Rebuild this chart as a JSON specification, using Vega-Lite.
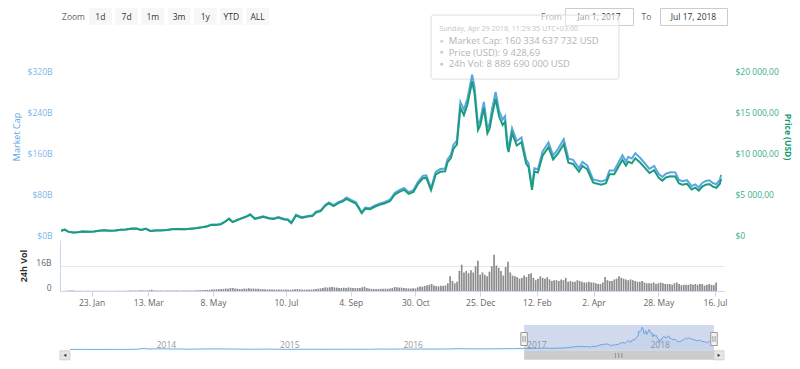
{
"$schema": "https://vega.github.io/schema/vega-lite/v6.json",
"background": "#ffffff",
"padding": {"left": 12, "top": 7, "right": 6, "bottom": 0},
"spacing": -12,
"config": {"font": "Open Sans", "view": {"stroke": null}, "axis": {"labelFontSize": 8.5, "labelColor": "#666666", "labelFont": "Open Sans", "titleFont": "Open Sans"}},
"datasets": {
"px": [
{"d":"2017-01-01","mc":16.05,"p":998},{"d":"2017-01-04","mc":18.25,"p":1135},{"d":"2017-01-07","mc":14.39,"p":895},{"d":"2017-01-11","mc":12.54,"p":780},{"d":"2017-01-15","mc":13.16,"p":818},{"d":"2017-01-19","mc":14.48,"p":900},{"d":"2017-01-24","mc":14.32,"p":890},{"d":"2017-01-29","mc":14.72,"p":915},
{"d":"2017-02-02","mc":16.30,"p":1010},{"d":"2017-02-07","mc":17.03,"p":1055},{"d":"2017-02-11","mc":16.14,"p":1000},{"d":"2017-02-16","mc":16.71,"p":1035},{"d":"2017-02-21","mc":18.00,"p":1115},{"d":"2017-02-25","mc":18.56,"p":1150},
{"d":"2017-03-02","mc":20.40,"p":1260},{"d":"2017-03-06","mc":20.64,"p":1275},{"d":"2017-03-10","mc":17.81,"p":1100},{"d":"2017-03-14","mc":20.16,"p":1245},{"d":"2017-03-18","mc":15.79,"p":975},{"d":"2017-03-23","mc":16.84,"p":1040},{"d":"2017-03-27","mc":16.92,"p":1045},
{"d":"2017-04-01","mc":17.63,"p":1085},{"d":"2017-04-06","mc":19.34,"p":1190},{"d":"2017-04-11","mc":19.66,"p":1210},{"d":"2017-04-16","mc":19.18,"p":1180},{"d":"2017-04-21","mc":20.15,"p":1240},{"d":"2017-04-26","mc":21.29,"p":1310},
{"d":"2017-05-01","mc":23.16,"p":1420},{"d":"2017-05-05","mc":24.95,"p":1530},{"d":"2017-05-09","mc":28.05,"p":1720},{"d":"2017-05-13","mc":28.05,"p":1720},{"d":"2017-05-17","mc":29.36,"p":1800},{"d":"2017-05-20","mc":33.27,"p":2040},{"d":"2017-05-24","mc":39.96,"p":2450},{"d":"2017-05-27","mc":33.44,"p":2050},{"d":"2017-05-31","mc":37.51,"p":2300},
{"d":"2017-06-04","mc":41.25,"p":2520},{"d":"2017-06-08","mc":44.53,"p":2720},{"d":"2017-06-11","mc":48.46,"p":2960},{"d":"2017-06-15","mc":40.11,"p":2450},{"d":"2017-06-19","mc":42.56,"p":2600},{"d":"2017-06-22","mc":44.36,"p":2710},{"d":"2017-06-27","mc":40.93,"p":2500},
{"d":"2017-07-01","mc":39.92,"p":2430},{"d":"2017-07-05","mc":42.88,"p":2610},{"d":"2017-07-10","mc":39.10,"p":2380},{"d":"2017-07-13","mc":38.61,"p":2350},{"d":"2017-07-16","mc":31.71,"p":1930},{"d":"2017-07-20","mc":47.15,"p":2870},{"d":"2017-07-25","mc":42.39,"p":2580},{"d":"2017-07-30","mc":45.02,"p":2740},
{"d":"2017-08-03","mc":46.14,"p":2800},{"d":"2017-08-06","mc":53.23,"p":3230},{"d":"2017-08-10","mc":56.03,"p":3400},{"d":"2017-08-14","mc":66.91,"p":4060},{"d":"2017-08-17","mc":71.36,"p":4330},{"d":"2017-08-21","mc":66.08,"p":4010},{"d":"2017-08-25","mc":72.02,"p":4370},{"d":"2017-08-29","mc":75.64,"p":4590},
{"d":"2017-09-01","mc":80.88,"p":4890},{"d":"2017-09-05","mc":76.08,"p":4600},{"d":"2017-09-09","mc":71.62,"p":4330},{"d":"2017-09-14","mc":52.10,"p":3150},{"d":"2017-09-17","mc":61.20,"p":3700},{"d":"2017-09-21","mc":60.04,"p":3630},{"d":"2017-09-25","mc":65.00,"p":3930},{"d":"2017-09-29","mc":68.97,"p":4170},
{"d":"2017-10-03","mc":71.71,"p":4320},{"d":"2017-10-08","mc":76.53,"p":4610},{"d":"2017-10-12","mc":89.64,"p":5400},{"d":"2017-10-16","mc":95.45,"p":5750},{"d":"2017-10-20","mc":99.60,"p":6000},{"d":"2017-10-24","mc":91.30,"p":5500},{"d":"2017-10-28","mc":95.45,"p":5750},
{"d":"2017-11-01","mc":112.22,"p":6740},{"d":"2017-11-05","mc":123.21,"p":7400},{"d":"2017-11-08","mc":124.04,"p":7450},{"d":"2017-11-12","mc":99.07,"p":5950},{"d":"2017-11-16","mc":131.04,"p":7870},{"d":"2017-11-20","mc":136.53,"p":8200},{"d":"2017-11-24","mc":137.36,"p":8250},{"d":"2017-11-26","mc":155.34,"p":9330},{"d":"2017-11-29","mc":164.83,"p":9900},
{"d":"2017-12-01","mc":183.48,"p":10980},{"d":"2017-12-04","mc":192.17,"p":11500},{"d":"2017-12-07","mc":267.36,"p":16000},{"d":"2017-12-10","mc":252.32,"p":15100},{"d":"2017-12-13","mc":274.04,"p":16400},{"d":"2017-12-17","mc":320.83,"p":19200},{"d":"2017-12-19","mc":297.44,"p":17800},{"d":"2017-12-22","mc":222.24,"p":13300},{"d":"2017-12-24","mc":232.27,"p":13900},{"d":"2017-12-27","mc":267.36,"p":16000},{"d":"2017-12-30","mc":215.56,"p":12900},
{"d":"2018-01-01","mc":226.40,"p":13500},{"d":"2018-01-03","mc":254.07,"p":15150},{"d":"2018-01-06","mc":286.77,"p":17100},{"d":"2018-01-09","mc":249.87,"p":14900},{"d":"2018-01-12","mc":233.10,"p":13900},{"d":"2018-01-14","mc":239.81,"p":14300},{"d":"2018-01-16","mc":187.82,"p":11200},{"d":"2018-01-17","mc":177.76,"p":10600},{"d":"2018-01-20","mc":216.33,"p":12900},{"d":"2018-01-24","mc":191.18,"p":11400},{"d":"2018-01-28","mc":197.89,"p":11800},
{"d":"2018-02-01","mc":154.74,"p":9200},{"d":"2018-02-03","mc":148.02,"p":8800},{"d":"2018-02-06","mc":100.92,"p":6000},{"d":"2018-02-08","mc":137.92,"p":8200},{"d":"2018-02-11","mc":136.24,"p":8100},{"d":"2018-02-15","mc":170.72,"p":10150},{"d":"2018-02-20","mc":188.38,"p":11200},{"d":"2018-02-24","mc":163.15,"p":9700},{"d":"2018-02-28","mc":174.93,"p":10400},
{"d":"2018-03-05","mc":194.85,"p":11550},{"d":"2018-03-09","mc":156.89,"p":9300},{"d":"2018-03-13","mc":154.36,"p":9150},{"d":"2018-03-18","mc":138.33,"p":8200},{"d":"2018-03-21","mc":150.14,"p":8900},{"d":"2018-03-25","mc":143.40,"p":8500},{"d":"2018-03-30","mc":116.40,"p":6900},
{"d":"2018-04-01","mc":115.12,"p":6800},{"d":"2018-04-06","mc":112.25,"p":6630},{"d":"2018-04-10","mc":115.12,"p":6800},{"d":"2018-04-13","mc":133.75,"p":7900},{"d":"2018-04-17","mc":133.75,"p":7900},{"d":"2018-04-21","mc":150.68,"p":8900},{"d":"2018-04-24","mc":163.37,"p":9650},{"d":"2018-04-27","mc":151.52,"p":8950},{"d":"2018-04-29","mc":160.33,"p":9428.69},
{"d":"2018-05-02","mc":156.98,"p":9240},{"d":"2018-05-05","mc":167.35,"p":9850},{"d":"2018-05-09","mc":158.52,"p":9330},{"d":"2018-05-13","mc":147.81,"p":8700},{"d":"2018-05-17","mc":136.77,"p":8050},{"d":"2018-05-21","mc":142.72,"p":8400},{"d":"2018-05-25","mc":126.58,"p":7450},{"d":"2018-05-28","mc":120.97,"p":7120},{"d":"2018-05-31","mc":127.43,"p":7500},
{"d":"2018-06-04","mc":130.36,"p":7650},{"d":"2018-06-08","mc":130.02,"p":7630},{"d":"2018-06-11","mc":115.87,"p":6800},{"d":"2018-06-14","mc":112.80,"p":6620},{"d":"2018-06-18","mc":114.68,"p":6730},{"d":"2018-06-22","mc":103.09,"p":6050},{"d":"2018-06-25","mc":106.67,"p":6260},{"d":"2018-06-28","mc":100.54,"p":5900},
{"d":"2018-07-01","mc":109.27,"p":6390},{"d":"2018-07-04","mc":113.20,"p":6620},{"d":"2018-07-07","mc":114.57,"p":6700},{"d":"2018-07-10","mc":109.27,"p":6390},{"d":"2018-07-13","mc":106.88,"p":6250},{"d":"2018-07-16","mc":115.25,"p":6740},{"d":"2018-07-17","mc":125.17,"p":7320}
],
"vol": [
{"d":"2017-01-01","v":0.15},{"d":"2017-01-03","v":0.3},{"d":"2017-01-05","v":0.35},{"d":"2017-01-07","v":0.25},{"d":"2017-01-09","v":0.2},{"d":"2017-01-11","v":0.15},{"d":"2017-01-13","v":0.12},{"d":"2017-01-15","v":0.1},{"d":"2017-01-17","v":0.12},{"d":"2017-01-19","v":0.1},{"d":"2017-01-21","v":0.14},{"d":"2017-01-23","v":0.12},{"d":"2017-01-25","v":0.1},{"d":"2017-01-27","v":0.1},{"d":"2017-01-29","v":0.12},{"d":"2017-01-31","v":0.1},
{"d":"2017-02-02","v":0.12},{"d":"2017-02-04","v":0.1},{"d":"2017-02-06","v":0.1},{"d":"2017-02-08","v":0.14},{"d":"2017-02-10","v":0.12},{"d":"2017-02-12","v":0.1},{"d":"2017-02-14","v":0.12},{"d":"2017-02-16","v":0.15},{"d":"2017-02-18","v":0.14},{"d":"2017-02-20","v":0.2},{"d":"2017-02-22","v":0.22},{"d":"2017-02-24","v":0.25},{"d":"2017-02-26","v":0.3},{"d":"2017-02-28","v":0.25},
{"d":"2017-03-02","v":0.35},{"d":"2017-03-04","v":0.35},{"d":"2017-03-06","v":0.4},{"d":"2017-03-08","v":0.5},{"d":"2017-03-10","v":0.3},{"d":"2017-03-12","v":0.25},{"d":"2017-03-14","v":0.5},{"d":"2017-03-16","v":0.8},{"d":"2017-03-18","v":0.4},{"d":"2017-03-20","v":0.35},{"d":"2017-03-22","v":0.3},{"d":"2017-03-24","v":0.3},{"d":"2017-03-26","v":0.25},{"d":"2017-03-28","v":0.3},{"d":"2017-03-30","v":0.35},
{"d":"2017-04-01","v":0.3},{"d":"2017-04-03","v":0.3},{"d":"2017-04-05","v":0.35},{"d":"2017-04-07","v":0.4},{"d":"2017-04-09","v":0.3},{"d":"2017-04-11","v":0.3},{"d":"2017-04-13","v":0.35},{"d":"2017-04-15","v":0.3},{"d":"2017-04-17","v":0.35},{"d":"2017-04-19","v":0.3},{"d":"2017-04-21","v":0.35},{"d":"2017-04-23","v":0.45},{"d":"2017-04-25","v":0.5},{"d":"2017-04-27","v":0.55},{"d":"2017-04-29","v":0.6},
{"d":"2017-05-01","v":0.65},{"d":"2017-05-03","v":0.7},{"d":"2017-05-05","v":0.8},{"d":"2017-05-07","v":0.9},{"d":"2017-05-09","v":1.0},{"d":"2017-05-11","v":1.1},{"d":"2017-05-13","v":1.2},{"d":"2017-05-15","v":1.3},{"d":"2017-05-17","v":1.4},{"d":"2017-05-19","v":1.6},{"d":"2017-05-21","v":1.5},{"d":"2017-05-23","v":1.9},{"d":"2017-05-25","v":2.0},{"d":"2017-05-27","v":1.6},{"d":"2017-05-29","v":1.5},{"d":"2017-05-31","v":1.3},
{"d":"2017-06-02","v":1.3},{"d":"2017-06-04","v":1.6},{"d":"2017-06-06","v":1.5},{"d":"2017-06-08","v":1.7},{"d":"2017-06-10","v":1.5},{"d":"2017-06-12","v":1.6},{"d":"2017-06-14","v":1.4},{"d":"2017-06-16","v":1.5},{"d":"2017-06-18","v":1.3},{"d":"2017-06-20","v":1.2},{"d":"2017-06-22","v":1.1},{"d":"2017-06-24","v":1.0},{"d":"2017-06-26","v":1.1},{"d":"2017-06-28","v":1.0},{"d":"2017-06-30","v":1.0},
{"d":"2017-07-02","v":0.9},{"d":"2017-07-04","v":0.95},{"d":"2017-07-06","v":0.9},{"d":"2017-07-08","v":0.85},{"d":"2017-07-10","v":0.9},{"d":"2017-07-12","v":0.8},{"d":"2017-07-14","v":0.85},{"d":"2017-07-16","v":0.95},{"d":"2017-07-18","v":1.1},{"d":"2017-07-20","v":1.3},{"d":"2017-07-22","v":1.0},{"d":"2017-07-24","v":0.9},{"d":"2017-07-26","v":0.85},{"d":"2017-07-28","v":0.9},{"d":"2017-07-30","v":0.95},
{"d":"2017-08-01","v":0.9},{"d":"2017-08-03","v":1.2},{"d":"2017-08-05","v":1.3},{"d":"2017-08-07","v":1.5},{"d":"2017-08-09","v":1.7},{"d":"2017-08-11","v":2.0},{"d":"2017-08-13","v":2.4},{"d":"2017-08-15","v":2.2},{"d":"2017-08-17","v":2.4},{"d":"2017-08-19","v":2.6},{"d":"2017-08-21","v":2.3},{"d":"2017-08-23","v":2.2},{"d":"2017-08-25","v":1.9},{"d":"2017-08-27","v":2.0},{"d":"2017-08-29","v":2.1},{"d":"2017-08-31","v":2.0},
{"d":"2017-09-02","v":2.3},{"d":"2017-09-04","v":2.1},{"d":"2017-09-06","v":1.9},{"d":"2017-09-08","v":1.8},{"d":"2017-09-10","v":1.9},{"d":"2017-09-12","v":2.0},{"d":"2017-09-14","v":2.4},{"d":"2017-09-16","v":2.8},{"d":"2017-09-18","v":1.9},{"d":"2017-09-20","v":1.6},{"d":"2017-09-22","v":1.4},{"d":"2017-09-24","v":1.3},{"d":"2017-09-26","v":1.3},{"d":"2017-09-28","v":1.4},{"d":"2017-09-30","v":1.4},
{"d":"2017-10-02","v":1.4},{"d":"2017-10-04","v":1.5},{"d":"2017-10-06","v":1.5},{"d":"2017-10-08","v":1.6},{"d":"2017-10-10","v":1.9},{"d":"2017-10-12","v":2.6},{"d":"2017-10-14","v":2.4},{"d":"2017-10-16","v":2.2},{"d":"2017-10-18","v":2.2},{"d":"2017-10-20","v":1.9},{"d":"2017-10-22","v":1.8},{"d":"2017-10-24","v":1.7},{"d":"2017-10-26","v":1.6},{"d":"2017-10-28","v":1.8},{"d":"2017-10-30","v":1.6},
{"d":"2017-11-01","v":2.4},{"d":"2017-11-03","v":2.9},{"d":"2017-11-05","v":2.8},{"d":"2017-11-07","v":3.3},{"d":"2017-11-09","v":3.8},{"d":"2017-11-11","v":4.0},{"d":"2017-11-13","v":4.6},{"d":"2017-11-15","v":3.6},{"d":"2017-11-17","v":3.2},{"d":"2017-11-19","v":3.0},{"d":"2017-11-21","v":3.4},{"d":"2017-11-23","v":3.3},{"d":"2017-11-25","v":3.6},{"d":"2017-11-27","v":5.0},{"d":"2017-11-29","v":9.5},
{"d":"2017-12-01","v":6.5},{"d":"2017-12-03","v":5.0},{"d":"2017-12-05","v":6.0},{"d":"2017-12-07","v":13.0},{"d":"2017-12-09","v":17.0},{"d":"2017-12-11","v":12.0},{"d":"2017-12-13","v":13.0},{"d":"2017-12-15","v":11.5},{"d":"2017-12-17","v":13.5},{"d":"2017-12-19","v":12.0},{"d":"2017-12-21","v":16.0},{"d":"2017-12-23","v":19.5},{"d":"2017-12-25","v":10.5},{"d":"2017-12-27","v":12.0},{"d":"2017-12-29","v":10.5},{"d":"2017-12-31","v":9.5},
{"d":"2018-01-02","v":12.5},{"d":"2018-01-04","v":16.0},{"d":"2018-01-06","v":23.5},{"d":"2018-01-08","v":16.5},{"d":"2018-01-10","v":15.0},{"d":"2018-01-12","v":13.0},{"d":"2018-01-14","v":10.0},{"d":"2018-01-16","v":15.5},{"d":"2018-01-18","v":19.0},{"d":"2018-01-20","v":12.0},{"d":"2018-01-22","v":10.0},{"d":"2018-01-24","v":9.5},{"d":"2018-01-26","v":9.0},{"d":"2018-01-28","v":8.0},{"d":"2018-01-30","v":8.5},
{"d":"2018-02-01","v":10.0},{"d":"2018-02-03","v":9.0},{"d":"2018-02-05","v":11.0},{"d":"2018-02-07","v":11.5},{"d":"2018-02-09","v":8.5},{"d":"2018-02-11","v":7.0},{"d":"2018-02-13","v":8.0},{"d":"2018-02-15","v":9.5},{"d":"2018-02-17","v":8.5},{"d":"2018-02-19","v":8.0},{"d":"2018-02-21","v":9.0},{"d":"2018-02-23","v":7.5},{"d":"2018-02-25","v":6.5},{"d":"2018-02-27","v":7.0},
{"d":"2018-03-01","v":7.0},{"d":"2018-03-03","v":6.5},{"d":"2018-03-05","v":7.5},{"d":"2018-03-07","v":7.0},{"d":"2018-03-09","v":8.5},{"d":"2018-03-11","v":6.0},{"d":"2018-03-13","v":6.5},{"d":"2018-03-15","v":6.0},{"d":"2018-03-17","v":6.0},{"d":"2018-03-19","v":7.0},{"d":"2018-03-21","v":6.5},{"d":"2018-03-23","v":6.0},{"d":"2018-03-25","v":5.5},{"d":"2018-03-27","v":5.5},{"d":"2018-03-29","v":6.0},{"d":"2018-03-31","v":5.5},
{"d":"2018-04-02","v":5.5},{"d":"2018-04-04","v":5.0},{"d":"2018-04-06","v":4.5},{"d":"2018-04-08","v":4.5},{"d":"2018-04-10","v":5.5},{"d":"2018-04-12","v":9.0},{"d":"2018-04-14","v":7.0},{"d":"2018-04-16","v":6.5},{"d":"2018-04-18","v":6.5},{"d":"2018-04-20","v":7.5},{"d":"2018-04-22","v":8.0},{"d":"2018-04-24","v":9.5},{"d":"2018-04-26","v":8.5},{"d":"2018-04-28","v":8.0},{"d":"2018-04-30","v":7.5},
{"d":"2018-05-02","v":7.0},{"d":"2018-05-04","v":7.5},{"d":"2018-05-06","v":7.0},{"d":"2018-05-08","v":6.5},{"d":"2018-05-10","v":6.0},{"d":"2018-05-12","v":6.0},{"d":"2018-05-14","v":6.5},{"d":"2018-05-16","v":5.5},{"d":"2018-05-18","v":5.0},{"d":"2018-05-20","v":5.0},{"d":"2018-05-22","v":5.0},{"d":"2018-05-24","v":5.5},{"d":"2018-05-26","v":4.5},{"d":"2018-05-28","v":5.0},{"d":"2018-05-30","v":5.5},
{"d":"2018-06-01","v":5.0},{"d":"2018-06-03","v":4.5},{"d":"2018-06-05","v":4.5},{"d":"2018-06-07","v":4.5},{"d":"2018-06-09","v":4.0},{"d":"2018-06-11","v":5.0},{"d":"2018-06-13","v":5.5},{"d":"2018-06-15","v":4.5},{"d":"2018-06-17","v":3.8},{"d":"2018-06-19","v":4.0},{"d":"2018-06-21","v":4.0},{"d":"2018-06-23","v":4.0},{"d":"2018-06-25","v":4.5},{"d":"2018-06-27","v":4.0},{"d":"2018-06-29","v":4.5},
{"d":"2018-07-01","v":4.0},{"d":"2018-07-03","v":4.5},{"d":"2018-07-05","v":4.5},{"d":"2018-07-07","v":3.5},{"d":"2018-07-09","v":4.0},{"d":"2018-07-11","v":4.5},{"d":"2018-07-13","v":4.0},{"d":"2018-07-15","v":3.8},{"d":"2018-07-17","v":5.5}
],
"hist": [
{"d":"2013-04-28","mc":1.5},{"d":"2013-06-01","mc":1.4},{"d":"2013-07-05","mc":0.8},{"d":"2013-08-01","mc":1.2},{"d":"2013-09-01","mc":1.6},{"d":"2013-10-01","mc":1.5},{"d":"2013-10-25","mc":2.2},{"d":"2013-11-10","mc":4.2},{"d":"2013-11-20","mc":7.2},{"d":"2013-11-30","mc":13.2},{"d":"2013-12-04","mc":14.0},{"d":"2013-12-18","mc":6.5},
{"d":"2014-01-01","mc":9.0},{"d":"2014-02-01","mc":10.0},{"d":"2014-02-25","mc":6.5},{"d":"2014-03-15","mc":7.8},{"d":"2014-04-10","mc":4.6},{"d":"2014-05-01","mc":5.4},{"d":"2014-06-03","mc":8.2},{"d":"2014-07-01","mc":8.3},{"d":"2014-08-01","mc":7.7},{"d":"2014-09-01","mc":6.4},{"d":"2014-10-05","mc":4.4},{"d":"2014-11-01","mc":4.5},{"d":"2014-12-01","mc":5.2},
{"d":"2015-01-01","mc":4.3},{"d":"2015-01-14","mc":2.4},{"d":"2015-02-01","mc":3.1},{"d":"2015-03-01","mc":3.5},{"d":"2015-04-01","mc":3.5},{"d":"2015-05-01","mc":3.3},{"d":"2015-06-01","mc":3.2},{"d":"2015-07-01","mc":3.7},{"d":"2015-08-01","mc":4.3},{"d":"2015-09-01","mc":3.4},{"d":"2015-10-01","mc":3.5},{"d":"2015-11-04","mc":6.8},{"d":"2015-12-01","mc":5.3},
{"d":"2016-01-01","mc":6.5},{"d":"2016-02-01","mc":5.7},{"d":"2016-03-01","mc":6.9},{"d":"2016-04-01","mc":6.4},{"d":"2016-05-01","mc":7.0},{"d":"2016-06-01","mc":8.5},{"d":"2016-06-17","mc":11.9},{"d":"2016-07-01","mc":10.6},{"d":"2016-08-01","mc":9.1},{"d":"2016-09-01","mc":9.1},{"d":"2016-10-01","mc":9.7},{"d":"2016-11-01","mc":11.5},{"d":"2016-12-01","mc":12.2},{"d":"2017-01-01","mc":16.05}
],
"yrs": [{"d":"2014-01-01","t":"2014"},{"d":"2015-01-01","t":"2015"},{"d":"2016-01-01","t":"2016"},{"d":"2017-01-01","t":"2017"},{"d":"2018-01-01","t":"2018"}],
"sel": [{"s":"2013-04-28","a":"2017-01-01","b":"2018-07-17","m":"2017-10-08","g":"|||"}]
},
"vconcat": [
{"hconcat": [
  {"hconcat": [
    {"width": 27, "height": 17, "data": {"values": [{"t": "Zoom"}]}, "mark": {"type": "text", "fontSize": 8.5, "color": "#666666"}, "encoding": {"text": {"field": "t"}}},
    {"width": 180, "height": 17, "data": {"values": [{"b": "1d"},{"b": "7d"},{"b": "1m"},{"b": "3m"},{"b": "1y"},{"b": "YTD"},{"b": "ALL"}]},
     "encoding": {"x": {"field": "b", "type": "nominal", "sort": null, "scale": {"paddingInner": 0.13, "paddingOuter": 0}, "axis": null}},
     "layer": [
       {"mark": {"type": "rect", "fill": "#f7f7f7"}},
       {"mark": {"type": "text", "fontSize": 8.5, "color": "#333333"}, "encoding": {"text": {"field": "b"}}}
     ]}
  ], "spacing": 2},
  {"hconcat": [
    {"width": 25, "height": 17, "data": {"values": [{"t": "From"}]}, "mark": {"type": "text", "fontSize": 8.5, "color": "#666666"}, "encoding": {"text": {"field": "t"}}},
    {"width": 68, "height": 17, "view": {"stroke": "#cccccc"}, "data": {"values": [{"t": "Jan 1, 2017"}]}, "mark": {"type": "text", "fontSize": 8.5, "color": "#333333"}, "encoding": {"text": {"field": "t"}}},
    {"width": 25, "height": 17, "data": {"values": [{"t": "To"}]}, "mark": {"type": "text", "fontSize": 8.5, "color": "#666666"}, "encoding": {"text": {"field": "t"}}},
    {"width": 67, "height": 17, "view": {"stroke": "#cccccc"}, "data": {"values": [{"t": "Jul 17, 2018"}]}, "mark": {"type": "text", "fontSize": 8.5, "color": "#333333"}, "encoding": {"text": {"field": "t"}}}
  ], "spacing": 0}
], "spacing": 270},
{"width": 664, "height": 205,
 "layer": [
  {"layer": [
    {"data": {"values": [{"k": "tip"}]}, "mark": {"type": "rect", "fill": "#ffffff", "fillOpacity": 0.5, "stroke": "#dedede", "strokeWidth": 1, "cornerRadius": 2},
     "encoding": {"x": {"datum": {"year": 2017, "month": 11, "date": 12, "utc": true}, "type": "temporal", "axis": null}, "x2": {"datum": {"year": 2018, "month": 4, "date": 21, "utc": true}}, "y": {"datum": 437, "type": "quantitative"}, "y2": {"datum": 312}}},
    {"data": {"values": [{"t": "Sunday, Apr 29 2018, 11:29:35 UTC+03:00"}]}, "mark": {"type": "text", "align": "left", "baseline": "middle", "fontSize": 7.2, "color": "#c6c6c6"},
     "encoding": {"x": {"datum": {"year": 2017, "month": 11, "date": 19, "utc": true}, "type": "temporal", "axis": null}, "y": {"datum": 408.8, "type": "quantitative"}, "text": {"field": "t"}}},
    {"data": {"values": [{"t": ["Market Cap: 160 334 637 732 USD", "Price (USD): 9 428,69", "24h Vol: 8 889 690 000 USD"]}]}, "mark": {"type": "text", "align": "left", "baseline": "top", "fontSize": 9.5, "lineHeight": 11.5, "color": "#b4b4b4"},
     "encoding": {"x": {"datum": {"year": 2017, "month": 11, "date": 27, "utc": true}, "type": "temporal", "axis": null}, "y": {"datum": 395.5, "type": "quantitative"}, "text": {"field": "t"}}},
    {"data": {"values": [{"t": "●"}]}, "mark": {"type": "text", "baseline": "middle", "fontSize": 6.5, "color": "#b5d8f2"},
     "encoding": {"x": {"datum": {"year": 2017, "month": 11, "date": 21, "utc": true}, "type": "temporal", "axis": null}, "y": {"datum": 387.3, "type": "quantitative"}, "text": {"field": "t"}}},
    {"data": {"values": [{"t": "●"}]}, "mark": {"type": "text", "baseline": "middle", "fontSize": 6.5, "color": "#a3d9c8"},
     "encoding": {"x": {"datum": {"year": 2017, "month": 11, "date": 21, "utc": true}, "type": "temporal", "axis": null}, "y": {"datum": 364.9, "type": "quantitative"}, "text": {"field": "t"}}},
    {"data": {"values": [{"t": "●"}]}, "mark": {"type": "text", "baseline": "middle", "fontSize": 6.5, "color": "#c4c4c4"},
     "encoding": {"x": {"datum": {"year": 2017, "month": 11, "date": 21, "utc": true}, "type": "temporal", "axis": null}, "y": {"datum": 342.4, "type": "quantitative"}, "text": {"field": "t"}}},
    {"data": {"name": "px"}, "mark": {"type": "line", "color": "#5aa6e3", "strokeWidth": 2},
     "encoding": {
       "x": {"field": "d", "type": "temporal", "scale": {"type": "utc", "domain": [{"year": 2016, "month": 12, "date": 31, "utc": true}, {"year": 2018, "month": 7, "date": 19, "hours": 12, "utc": true}]}, "axis": null},
       "y": {"field": "mc", "type": "quantitative", "scale": {"domain": [0, 400]}, "axis": {"values": [0, 80, 160, 240, 320, 400], "labelExpr": "datum.value >= 400 ? '' : '$' + datum.value + 'B'", "labelColor": "#7cb5ec", "title": "Market Cap", "titleColor": "#5aa6e3", "titleFontWeight": "normal", "titleFontSize": 9, "titlePadding": 6, "labelPadding": 8, "ticks": false, "domain": false, "gridColor": "#e6e6e6", "labelOffset": -4}}
     }}
  ]},
  {"data": {"name": "px"}, "mark": {"type": "line", "color": "#1a9c7d", "strokeWidth": 2},
   "encoding": {
     "x": {"field": "d", "type": "temporal", "scale": {"type": "utc", "domain": [{"year": 2016, "month": 12, "date": 31, "utc": true}, {"year": 2018, "month": 7, "date": 19, "hours": 12, "utc": true}]}, "axis": null},
     "y": {"field": "p", "type": "quantitative", "scale": {"domain": [0, 25000]}, "axis": {"orient": "right", "values": [0, 5000, 10000, 15000, 20000], "labelExpr": "datum.value == 0 ? '$0' : '$' + replace(format(datum.value, ','), ',', ' ') + ',00'", "labelColor": "#3aae8e", "title": "Price (USD)", "titleColor": "#0e9a72", "titleFontSize": 8.5, "titleFontWeight": "bold", "titlePadding": 4, "labelPadding": 11, "ticks": false, "domain": false, "grid": false, "labelOffset": -4}}
   }}
 ],
 "resolve": {"scale": {"y": "independent"}}
},
{"width": 664, "height": 51, "data": {"name": "vol"},
 "title": {"text": " ", "fontSize": 10, "offset": 2},
 "mark": {"type": "bar", "width": 1.7, "color": "#8c8c8c"},
 "encoding": {
   "x": {"field": "d", "type": "temporal", "scale": {"type": "utc", "domain": [{"year": 2016, "month": 12, "date": 31, "utc": true}, {"year": 2018, "month": 7, "date": 19, "hours": 12, "utc": true}]},
     "axis": {"values": [{"year": 2017, "month": 1, "date": 23, "utc": true}, {"year": 2017, "month": 3, "date": 13, "utc": true}, {"year": 2017, "month": 5, "date": 8, "utc": true}, {"year": 2017, "month": 7, "date": 10, "utc": true}, {"year": 2017, "month": 9, "date": 4, "utc": true}, {"year": 2017, "month": 10, "date": 30, "utc": true}, {"year": 2017, "month": 12, "date": 25, "utc": true}, {"year": 2018, "month": 2, "date": 12, "utc": true}, {"year": 2018, "month": 4, "date": 2, "utc": true}, {"year": 2018, "month": 5, "date": 28, "utc": true}, {"year": 2018, "month": 7, "date": 16, "utc": true}],
       "format": "%-d. %b", "labelColor": "#666666", "tickColor": "#ccd6eb", "domainColor": "#ccd6eb", "tickSize": 5, "labelPadding": 2, "grid": false, "title": null, "minExtent": 34, "labelFlush": false, "labelOverlap": false}},
   "y": {"field": "v", "type": "quantitative", "scale": {"domain": [0, 33]}, "axis": {"values": [0, 16], "labelExpr": "datum.value == 0 ? '0' : datum.value + 'B'", "title": "24h Vol", "titleFontWeight": "bold", "titleColor": "#333333", "titleFontSize": 9, "titlePadding": 7, "labelPadding": 9, "ticks": false, "domain": true, "domainColor": "#ccd6eb", "gridColor": "#e6e6e6", "labelOffset": -4}}
 }},
{"width": 664, "height": 28,
 "layer": [
   {"data": {"name": "hist"}, "mark": {"type": "area", "color": "#7cb5ec", "opacity": 0.1},
    "encoding": {
      "x": {"field": "d", "type": "temporal", "scale": {"type": "utc", "domain": [{"year": 2013, "month": 3, "date": 29, "hours": 14, "utc": true}, {"year": 2018, "month": 8, "date": 15, "hours": 14, "utc": true}]},
        "axis": {"values": [{"year": 2014, "month": 1, "date": 1, "utc": true}, {"year": 2015, "month": 1, "date": 1, "utc": true}, {"year": 2016, "month": 1, "date": 1, "utc": true}, {"year": 2017, "month": 1, "date": 1, "utc": true}, {"year": 2018, "month": 1, "date": 1, "utc": true}],
          "grid": true, "gridColor": "#e6e6e6", "domainWidth": 10, "domainColor": "#f2f2f2", "offset": 5, "ticks": false, "labels": false, "title": null}},
      "y": {"field": "mc", "type": "quantitative", "scale": {"domain": [-19, 343]}, "axis": {"values": [343], "grid": true, "gridColor": "#e0e0e0", "labels": false, "ticks": false, "domain": false, "title": null}}
    }},
   {"data": {"name": "px"}, "mark": {"type": "area", "color": "#7cb5ec", "opacity": 0.1},
    "encoding": {"x": {"field": "d", "type": "temporal", "axis": null}, "y": {"field": "mc", "type": "quantitative", "axis": null}}},
   {"data": {"name": "yrs"}, "mark": {"type": "text", "align": "left", "baseline": "middle", "fontSize": 8.5, "color": "#999999", "xOffset": 3},
    "encoding": {"x": {"field": "d", "type": "temporal", "axis": null}, "y": {"datum": 60, "type": "quantitative", "axis": null}, "text": {"field": "t"}}},
   {"data": {"name": "hist"}, "mark": {"type": "line", "color": "#6aaee8", "strokeWidth": 1},
    "encoding": {"x": {"field": "d", "type": "temporal", "axis": null}, "y": {"field": "mc", "type": "quantitative", "axis": null}}},
   {"data": {"name": "px"}, "mark": {"type": "line", "color": "#6aaee8", "strokeWidth": 1},
    "encoding": {"x": {"field": "d", "type": "temporal", "axis": null}, "y": {"field": "mc", "type": "quantitative", "axis": null}}},
   {"data": {"name": "sel"}, "mark": {"type": "rect", "fill": "#6685c2", "fillOpacity": 0.3},
    "encoding": {"x": {"field": "a", "type": "temporal", "axis": null}, "x2": {"field": "b"}}},
   {"data": {"name": "sel"}, "mark": {"type": "rect", "fill": "#cccccc"},
    "encoding": {"x": {"field": "a", "type": "temporal", "axis": null}, "x2": {"field": "b"}, "y": {"datum": -19, "type": "quantitative", "axis": null}, "y2": {"datum": -148}}},
   {"data": {"name": "sel"}, "mark": {"type": "rect", "fill": "#e6e6e6", "stroke": "#cccccc", "strokeWidth": 0.8, "xOffset": -10},
    "encoding": {"x": {"field": "s", "type": "temporal", "axis": null}, "x2": {"field": "s"}, "y": {"datum": -19, "type": "quantitative", "axis": null}, "y2": {"datum": -148}}},
   {"data": {"name": "sel"}, "mark": {"type": "rect", "fill": "#e6e6e6", "stroke": "#cccccc", "strokeWidth": 0.8, "x2Offset": 10},
    "encoding": {"x": {"field": "b", "type": "temporal", "axis": null}, "x2": {"field": "b"}, "y": {"datum": -19, "type": "quantitative", "axis": null}, "y2": {"datum": -148}}},
   {"data": {"name": "sel"}, "mark": {"type": "point", "shape": "triangle-left", "filled": true, "color": "#333333", "size": 10, "xOffset": -5, "opacity": 1},
    "encoding": {"x": {"field": "s", "type": "temporal", "axis": null}, "y": {"datum": -83.5, "type": "quantitative", "axis": null}}},
   {"data": {"name": "sel"}, "mark": {"type": "point", "shape": "triangle-right", "filled": true, "color": "#333333", "size": 10, "xOffset": 5, "opacity": 1},
    "encoding": {"x": {"field": "b", "type": "temporal", "axis": null}, "y": {"datum": -83.5, "type": "quantitative", "axis": null}}},
   {"data": {"name": "sel"}, "mark": {"type": "text", "fontSize": 6, "color": "#333333", "baseline": "middle"},
    "encoding": {"x": {"field": "m", "type": "temporal", "axis": null}, "y": {"datum": -83.5, "type": "quantitative", "axis": null}, "text": {"field": "g"}}},
   {"data": {"name": "sel"}, "mark": {"type": "point", "shape": "M-0.5,-1H0.5V1H-0.5Z M-0.17,-0.45V0.45 M0.17,-0.45V0.45", "fill": "#f2f2f2", "stroke": "#999999", "strokeWidth": 1, "size": 169, "opacity": 1, "fillOpacity": 1},
    "encoding": {"x": {"field": "a", "type": "temporal", "axis": null}}},
   {"data": {"name": "sel"}, "mark": {"type": "point", "shape": "M-0.5,-1H0.5V1H-0.5Z M-0.17,-0.45V0.45 M0.17,-0.45V0.45", "fill": "#f2f2f2", "stroke": "#999999", "strokeWidth": 1, "size": 169, "opacity": 1, "fillOpacity": 1},
    "encoding": {"x": {"field": "b", "type": "temporal", "axis": null}}}
 ]}
]
}
